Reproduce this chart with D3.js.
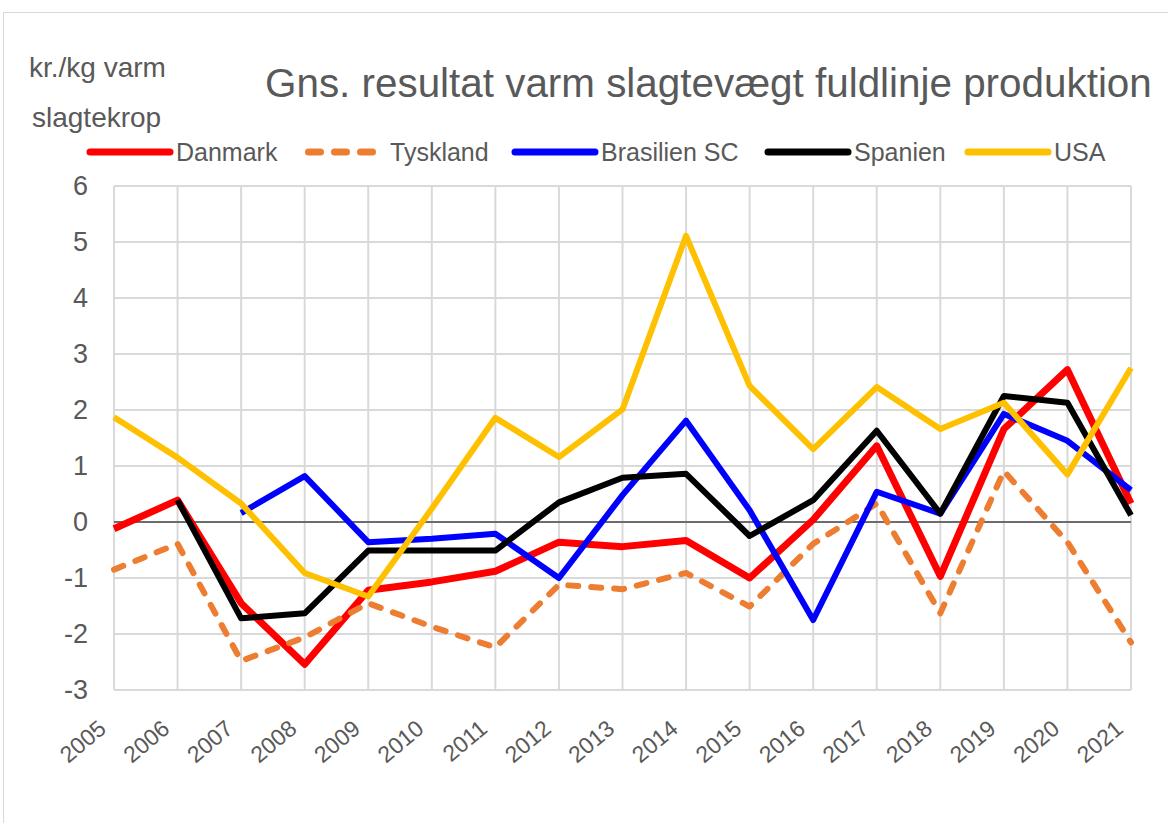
<!DOCTYPE html>
<html>
<head>
<meta charset="utf-8">
<script src="https://cdn.jsdelivr.net/npm/d3@7"></script>
<style>
  body { margin: 0; background: #fff; }
  text { font-family: "Liberation Sans", Arial, sans-serif; fill: #595959; }
</style>
</head>
<body>
<svg id="chart" width="1168" height="823"></svg>
<script>
// data
const years = [2005, 2006, 2007, 2008, 2009, 2010, 2011, 2012, 2013, 2014, 2015, 2016, 2017, 2018, 2019, 2020, 2021];
const danmark   = [-0.12, 0.39, -1.45, -2.54, -1.22, -1.07, -0.88, -0.36, -0.44, -0.33, -1.0, 0.04, 1.36, -0.97, 1.66, 2.72, 0.33];
const tyskland  = [-0.85, -0.39, -2.48, -2.06, -1.45, -1.87, -2.24, -1.12, -1.2, -0.91, -1.51, -0.39, 0.33, -1.63, 0.91, -0.36, -2.15];
const brasilien = [null, null, 0.16, 0.82, -0.36, -0.3, -0.21, -1.0, 0.48, 1.81, 0.21, -1.75, 0.54, 0.15, 1.93, 1.45, 0.57];
const spanien   = [null, 0.39, -1.72, -1.63, -0.51, -0.51, -0.51, 0.35, 0.79, 0.86, -0.25, 0.39, 1.63, 0.15, 2.25, 2.13, 0.12];
const usa       = [1.87, 1.15, 0.33, -0.91, -1.33, 0.24, 1.86, 1.16, 2.01, 5.11, 2.43, 1.3, 2.41, 1.66, 2.13, 0.85, 2.75];
const yTicks = [-3, -2, -1, 0, 1, 2, 3, 4, 5, 6];

const series = [
  { name: 'Danmark', values: danmark, color: '#FF0000', dash: null },
  { name: 'Tyskland', values: tyskland, color: '#ED7D31', dash: '10,13' },
  { name: 'Brasilien SC', values: brasilien, color: '#0000FF', dash: null },
  { name: 'Spanien', values: spanien, color: '#000000', dash: null },
  { name: 'USA', values: usa, color: '#FFC000', dash: null }
];

const svg = d3.select('#chart');
const plot = { left: 114, right: 1131, top: 186, bottom: 690 };

// outer chart border
svg.append('rect')
    .attr('x', 3.5).attr('y', 12.5)
    .attr('width', 1180).attr('height', 830)
    .attr('fill', 'none')
    .attr('stroke', '#d9d9d9')
    .attr('stroke-width', 1);

const x = d3.scaleLinear()
    .domain([years[0], years[years.length - 1]])
    .range([plot.left, plot.right]);

const y = d3.scaleLinear()
    .domain([-3, 6])
    .range([plot.bottom, plot.top]);

// grid
const grid = svg.append('g');
grid.selectAll('.hgrid')
    .data(yTicks)
    .join('line')
    .attr('x1', plot.left).attr('x2', plot.right)
    .attr('y1', d => y(d)).attr('y2', d => y(d))
    .attr('stroke', '#d9d9d9')
    .attr('stroke-width', 2);

grid.selectAll('.vgrid')
    .data(years)
    .join('line')
    .attr('x1', d => x(d)).attr('x2', d => x(d))
    .attr('y1', plot.top).attr('y2', plot.bottom)
    .attr('stroke', '#d9d9d9')
    .attr('stroke-width', 2);

// zero line
svg.append('line')
    .attr('x1', plot.left).attr('x2', plot.right)
    .attr('y1', y(0)).attr('y2', y(0))
    .attr('stroke', '#000')
    .attr('stroke-width', 1);

// y axis labels
const yAxis = d3.axisLeft(y).tickValues(yTicks).tickFormat(d => String(d)).tickSize(0).tickPadding(26);
const yg = svg.append('g')
    .attr('transform', `translate(${plot.left},0)`)
    .call(yAxis);
yg.select('.domain').remove();
yg.selectAll('text')
    .attr('fill', '#595959')
    .style('font-size', '27px')
    .style('font-family', '"Liberation Sans", Arial, sans-serif');

// x axis labels, rotated
const xAxis = d3.axisBottom(x).tickValues(years).tickFormat(d3.format('d')).tickSize(0);
const xg = svg.append('g')
    .attr('transform', `translate(0,${plot.bottom})`)
    .call(xAxis);
xg.select('.domain').remove();
xg.selectAll('text')
    .attr('fill', '#595959')
    .style('font-size', '23px')
    .style('font-family', '"Liberation Sans", Arial, sans-serif')
    .attr('text-anchor', 'end')
    .attr('y', 0)
    .attr('dy', '0')
    .attr('transform', 'translate(-7,41) rotate(-40)');

// lines
const line = d3.line()
    .defined(d => d != null)
    .x((d, i) => x(years[i]))
    .y(d => y(d));

svg.append('g').selectAll('path')
    .data(series)
    .join('path')
    .attr('d', d => line(d.values))
    .attr('fill', 'none')
    .attr('stroke', d => d.color)
    .attr('stroke-width', d => d.name === 'Danmark' ? 7 : 6)
    .attr('stroke-dasharray', d => d.dash)
    .attr('stroke-linecap', d => d.dash ? 'round' : 'butt')
    .attr('stroke-linejoin', 'round');

// title and axis title
svg.append('text')
    .attr('x', 265).attr('y', 97)
    .style('font-size', '40.4px')
    .text('Gns. resultat varm slagtevægt fuldlinje produktion');

svg.append('text')
    .attr('x', 29).attr('y', 77)
    .style('font-size', '28px')
    .text('kr./kg varm');
svg.append('text')
    .attr('x', 32).attr('y', 127)
    .style('font-size', '28px')
    .text('slagtekrop');

// legend
const legendX = [90, 290, 515, 768, 968];
const legend = svg.append('g').selectAll('g')
    .data(series)
    .join('g')
    .attr('transform', (d, i) => `translate(${legendX[i]},152)`);

legend.append('line')
    .attr('x1', d => d.dash ? 18.5 : 0).attr('x2', d => d.dash ? 82.5 : 80)
    .attr('y1', 0).attr('y2', 0)
    .attr('stroke', d => d.color)
    .attr('stroke-width', 7)
    .attr('stroke-dasharray', d => d.dash ? '12,14' : null)
    .attr('stroke-linecap', 'round');

legend.append('text')
    .attr('x', d => d.dash ? 100 : 86)
    .attr('y', 9)
    .style('font-size', '25px')
    .text(d => d.name);
</script>
</body>
</html>
